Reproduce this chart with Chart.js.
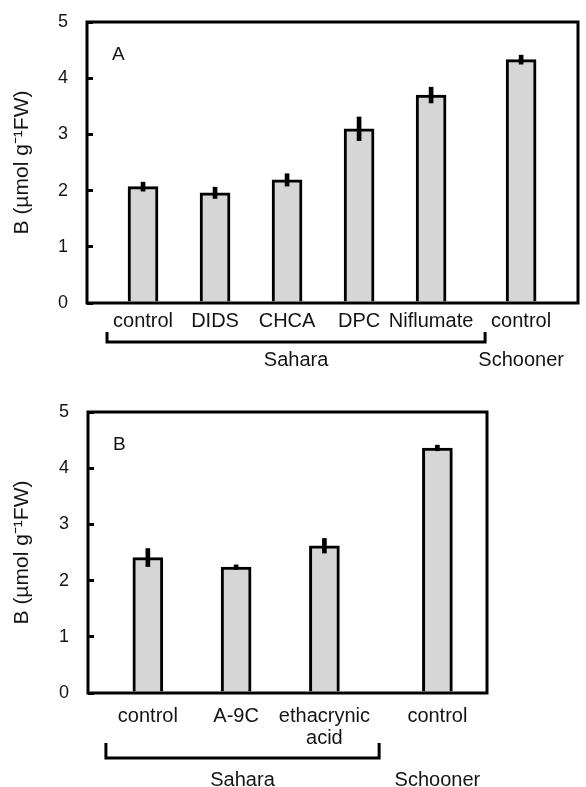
<!DOCTYPE html>
<html>
<head>
<meta charset="utf-8">
<script src="https://cdn.jsdelivr.net/npm/chart.js@4.4.1/dist/chart.umd.min.js"></script>
<style>
  html, body { margin: 0; padding: 0; background: #fff; }
  .panel { position: absolute; left: 0; width: 586px; }
  #panelA { top: 0; height: 385px; }
  #panelB { top: 390px; height: 397px; }
</style>
</head>
<body>
<div class="panel" id="panelA"><canvas id="chartA"></canvas></div>
<div class="panel" id="panelB"><canvas id="chartB"></canvas></div>
<script>
// Panel A - anion channel blockers
var labelsA = ['control', 'DIDS', 'CHCA', 'DPC', 'Niflumate', 'control'];
var slotsA = [1, 2, 3, 4, 5, 6.25];
var valuesA = [2.07, 1.96, 2.19, 3.10, 3.70, 4.33];
var errorsA = [0.08, 0.10, 0.11, 0.21, 0.14, 0.08];

// Panel B
var labelsB = ['control', 'A-9C', ['ethacrynic', 'acid'], 'control'];
var slotsB = [1, 2, 3, 4.28];
var valuesB = [2.41, 2.24, 2.62, 4.36];
var errorsB = [0.16, 0.04, 0.13, 0.05];

var yTicks = [0, 1, 2, 3, 4, 5];
var yTitle = 'B (\u00b5mol g\u207b\u00b9FW)';
var FONT = '"Liberation Sans", Arial, sans-serif';
var INK = '#141414';

// frame, Sahara bracket, group names and panel letter
var decor = {
  id: 'decor',
  afterDraw: function(chart, args, o) {
    var c = chart.ctx, a = chart.chartArea, x = chart.scales.x;
    c.save();
    c.strokeStyle = '#000';
    c.lineWidth = 3;
    c.strokeRect(a.left, a.top, a.right - a.left, a.bottom - a.top);

    var bx1 = x.getPixelForValue(o.bracket[0]);
    var bx2 = x.getPixelForValue(o.bracket[1]);
    c.beginPath();
    c.moveTo(bx1, o.bracketTop);
    c.lineTo(bx1, o.bracketY);
    c.lineTo(bx2, o.bracketY);
    c.lineTo(bx2, o.bracketTop);
    c.stroke();

    c.fillStyle = INK;
    c.font = '20px ' + FONT;
    c.textAlign = 'center';
    c.textBaseline = 'middle';
    c.fillText('Sahara', (bx1 + bx2) / 2, o.groupY);
    c.fillText('Schooner', x.getPixelForValue(o.schooner), o.groupY);
    c.font = '19px ' + FONT;
    c.textAlign = 'left';
    c.fillText(o.letter, a.left + 25, a.top + 33);
    c.restore();
  }
};

function makeChart(id, p) {
  var ctx = document.getElementById(id).getContext('2d');
  return new Chart(ctx, {
    type: 'bar',
    plugins: [decor],
    data: {
      datasets: [{
        // error bars as thin floating bars
        data: p.slots.map(function(s, i) {
          return { x: s, y: [p.values[i] - p.errors[i], p.values[i] + p.errors[i]] };
        }),
        backgroundColor: '#000',
        borderWidth: 0,
        barThickness: 4,
        grouped: false,
        order: 0
      }, {
        data: p.slots.map(function(s, i) { return { x: s, y: p.values[i] }; }),
        backgroundColor: '#d6d6d6',
        borderColor: '#000',
        borderWidth: 3,
        borderSkipped: 'start',
        barThickness: 30,
        grouped: false,
        order: 1
      }]
    },
    options: {
      responsive: true,
      maintainAspectRatio: false,
      animation: false,
      layout: { padding: { top: 22, right: p.padRight, left: 0, bottom: 0 } },
      plugins: {
        legend: { display: false },
        tooltip: { enabled: false },
        decor: p.decor
      },
      scales: {
        x: {
          type: 'linear',
          min: p.xMin,
          max: p.xMax,
          offset: false,
          grid: { display: false, drawTicks: false },
          border: { display: false },
          afterBuildTicks: function(s) { s.ticks = p.slots.map(function(v) { return { value: v }; }); },
          afterFit: function(s) { s.height = p.xHeight; s.paddingLeft = 0; s.paddingRight = 0; },
          ticks: {
            autoSkip: false,
            maxRotation: 0,
            padding: p.xPad,
            color: INK,
            font: { family: FONT, size: 20, lineHeight: 1.1 },
            callback: function(v, i) { return p.labels[i]; }
          }
        },
        y: {
          min: 0,
          max: 5,
          afterBuildTicks: function(s) { s.ticks = yTicks.map(function(v) { return { value: v }; }); },
          afterFit: function(s) { s.width = p.yWidth; s.paddingTop = 0; s.paddingBottom = 0; },
          grid: { drawOnChartArea: false, drawTicks: true, tickLength: -6, lineWidth: 3, color: '#000' },
          border: { display: false },
          ticks: {
            padding: 25,
            color: INK,
            font: { family: FONT, size: 18 }
          },
          title: {
            display: true,
            text: yTitle,
            color: INK,
            font: { family: FONT, size: 21 },
            padding: { top: 10, bottom: 0 }
          }
        }
      }
    }
  });
}

var chartA = makeChart('chartA', {
  labels: labelsA, slots: slotsA, values: valuesA, errors: errorsA,
  xMin: 0.222, xMax: 7.04, padRight: 8, yWidth: 87, xHeight: 82, xPad: 7,
  decor: { letter: 'A', bracket: [0.5, 5.75], bracketTop: 332, bracketY: 342, groupY: 360, schooner: 6.25 }
});

var chartB = makeChart('chartB', {
  labels: labelsB, slots: slotsB, values: valuesB, errors: errorsB,
  xMin: 0.322, xMax: 4.842, padRight: 99, yWidth: 88, xHeight: 94, xPad: 12,
  decor: { letter: 'B', bracket: [0.525, 3.62], bracketTop: 353, bracketY: 368, groupY: 390, schooner: 4.28 }
});
</script>
</body>
</html>
